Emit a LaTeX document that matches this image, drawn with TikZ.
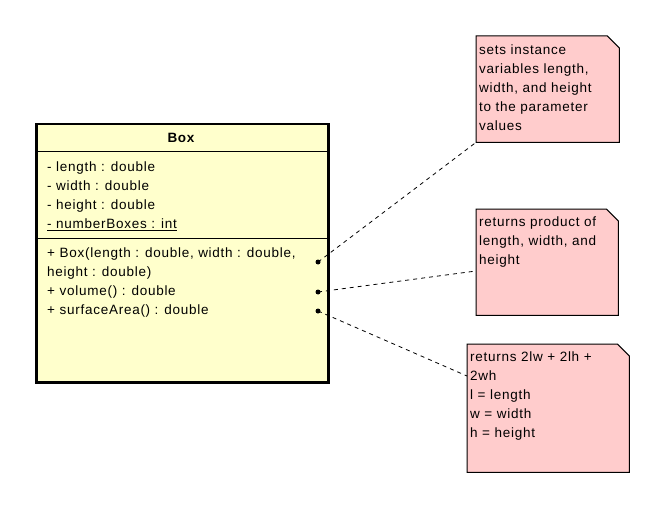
\documentclass[tikz,border=0pt]{standalone}
\usepackage{fontspec}
\setmainfont{Liberation Sans}[LetterSpace=5.5]
\definecolor{classfill}{RGB}{255,255,204}
\definecolor{notefill}{RGB}{255,204,204}
\begin{document}
\begin{tikzpicture}[x=1pt,y=-1pt,
  font=\fontsize{13.5}{19}\selectfont,
  classbox/.style={draw, line width=2.5pt, fill=classfill, inner sep=0pt, anchor=north west},
  txt/.style={anchor=base west, inner sep=0pt},
  notebox/.style={inner sep=0pt, anchor=north west},
  notetxt/.style={anchor=north west, inner sep=0pt, align=left},
  dotmark/.style={circle, fill=black, inner sep=0pt, minimum size=5pt},
  conn/.style={dash pattern=on 4pt off 4pt, line width=0.8pt}]
\useasboundingbox (0,0) rectangle (649,511);
\fill[white] (0,0) rectangle (649,511);
% class
\node[classbox, minimum width=292pt, minimum height=258pt] (box) at (35,123) {};
\draw[line width=1pt] (35,152) -- (327,152);
\draw[line width=1pt] (35,238) -- (327,238);
\node[font=\fontsize{13.5}{19}\selectfont\bfseries] (title) at (181,138) {Box};
\node[txt] (a1) at (47,171.5) {- length : double};
\node[txt] (a2) at (47,190.5) {- width : double};
\node[txt] (a3) at (47,209.5) {- height : double};
\node[txt] (a4) at (47,228.5) {\underline{- numberBoxes : int}};
\node[txt] (m1) at (47,257.5) {+ Box(length : double, width : double,};
\node[txt] (m2) at (47,276.5) {height : double)};
\node[txt] (m3) at (47,295.5) {+ volume() : double};
\node[txt] (m4) at (47,314.5) {+ surfaceArea() : double};
\node[dotmark] (d1) at (318,262) {};
\node[dotmark] (d2) at (318,292) {};
\node[dotmark] (d3) at (318,311) {};
% notes
\newcommand{\umlnote}[1]{%
  \draw[fill=notefill, line width=1pt] (#1.north west) -- ([xshift=-12pt]#1.north east) -- ([yshift=-12pt]#1.north east) -- (#1.south east) -- (#1.south west) -- cycle;}
\node[notebox, minimum width=143pt, minimum height=106pt] (n1) at (476,36) {};
\node[notebox, minimum width=142pt, minimum height=106pt] (n2) at (476,209) {};
\node[notebox, minimum width=162pt, minimum height=128pt] (n3) at (467,344) {};
\umlnote{n1}\umlnote{n2}\umlnote{n3}
\node[notetxt] (t1) at (479,45) {sets instance\\variables length,\\width, and height\\to the parameter\\values};
\node[notetxt] (t2) at (479,217) {returns product of\\length, width, and\\height};
\node[notetxt] (t3) at (470,352) {returns 2lw + 2lh +\\2wh\\l = length\\w = width\\h = height};
% connectors
\coordinate (e2) at (476,271);
\coordinate (e3) at (467,376);
\draw[conn] (d1.center) -- (n1.south west);
\draw[conn] (d2.center) -- (e2);
\draw[conn] (d3.center) -- (e3);
\end{tikzpicture}
\end{document}
